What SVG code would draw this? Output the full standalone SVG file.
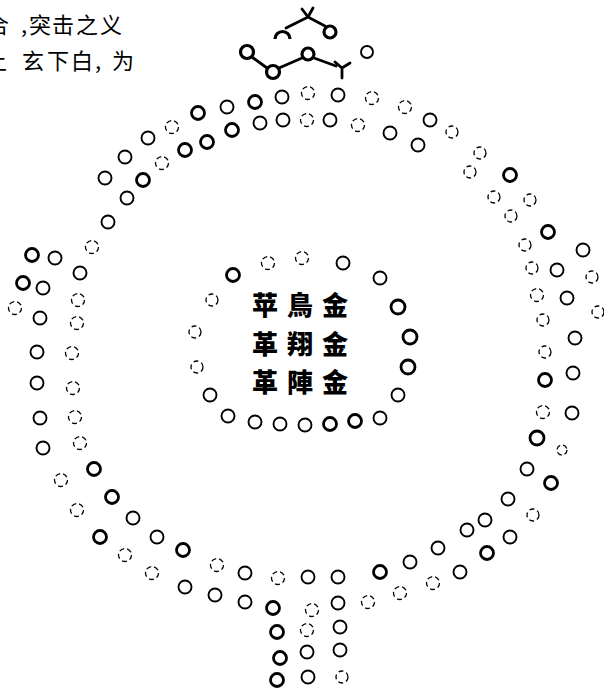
<svg xmlns="http://www.w3.org/2000/svg" width="604" height="691" viewBox="0 0 604 691">
<style>
  .c{fill:none;stroke:#000;stroke-width:1.9}
  .b{fill:none;stroke:#000;stroke-width:2.8}
  .f{fill:none;stroke:#000;stroke-width:1.3;stroke-dasharray:5 3}
  .h{fill:none;stroke:#000;stroke-width:3.2}
  .ln{fill:none;stroke:#000;stroke-width:2.8;stroke-linecap:round}
  .cap{font-family:"Noto Sans CJK SC","Noto Sans CJK JP",sans-serif;font-size:22px;fill:#000}
  .ttl{font-family:"Noto Sans CJK TC","Noto Sans CJK SC",sans-serif;font-size:26px;font-weight:900;fill:#000;text-anchor:middle}
</style>
<rect width="604" height="691" fill="#fff"/>

<g id="caption">
  <text class="cap" x="-13" y="33">合</text>
  <text class="cap" x="21" y="33">,</text>
  <text class="cap" x="29" y="33">突</text>
  <text class="cap" x="52" y="33">击</text>
  <text class="cap" x="76" y="33">之</text>
  <text class="cap" x="100" y="33">义</text>
  <text class="cap" x="-15" y="69">上</text>
  <text class="cap" x="22" y="69">玄</text>
  <text class="cap" x="47" y="69">下</text>
  <text class="cap" x="71" y="69">白</text>
  <text class="cap" x="95" y="69">,</text>
  <text class="cap" x="112" y="69">为</text>
</g>

<g id="head">
  <path class="h" d="M275,39 A7.5,7.5 0 1 1 290,39"/>
  <circle class="h" cx="330" cy="32" r="6"/>
  <path class="ln" d="M286,28 L308,17 L325,26 M302,9 L308,17 M313,8 L308,17"/>
  <circle class="h" cx="247" cy="52" r="6.5"/>
  <circle class="h" cx="273" cy="72" r="6.5"/>
  <circle class="h" cx="308" cy="54" r="6"/>
  <path class="ln" d="M252,57 L267,68 M279,68 L302,58 M314,58 L336,66"/>
  <path class="ln" d="M335,62 L342,68 L350,63 M342,68 L342,78"/>
  <circle class="c" cx="367" cy="52" r="6"/>
</g>

<g id="outer-ring">
  <circle class="c" cx="282" cy="97" r="6.5"/>
  <circle class="f" cx="308" cy="93" r="6.5"/>
  <circle class="c" cx="338" cy="95" r="6.5"/>
  <circle class="f" cx="372" cy="98" r="6.5"/>
  <circle class="f" cx="405" cy="107" r="6.5"/>
  <circle class="c" cx="430" cy="120" r="6.5"/>
  <circle class="f" cx="452" cy="132" r="6"/>
  <circle class="f" cx="480" cy="153" r="6"/>
  <circle class="b" cx="510" cy="175" r="6.5"/>
  <circle class="b" cx="255" cy="102" r="6.5"/>
  <circle class="c" cx="227" cy="107" r="6.5"/>
  <circle class="b" cx="198" cy="113" r="6.5"/>
  <circle class="f" cx="172" cy="127" r="6.5"/>
  <circle class="c" cx="148" cy="138" r="6.5"/>
  <circle class="c" cx="125" cy="157" r="6.5"/>
  <circle class="c" cx="105" cy="178" r="6.5"/>

  <circle class="b" cx="143" cy="180" r="6.5"/>
  <circle class="f" cx="162" cy="163" r="6.5"/>
  <circle class="b" cx="185" cy="150" r="6.5"/>
  <circle class="b" cx="207" cy="142" r="6.5"/>
  <circle class="b" cx="232" cy="130" r="6.5"/>
  <circle class="c" cx="260" cy="123" r="6.5"/>
  <circle class="c" cx="283" cy="120" r="6.5"/>
  <circle class="f" cx="307" cy="120" r="6.5"/>
  <circle class="c" cx="330" cy="120" r="6.5"/>
  <circle class="f" cx="358" cy="125" r="6.5"/>
  <circle class="c" cx="390" cy="133" r="6.5"/>
  <circle class="c" cx="418" cy="145" r="6.5"/>
  <circle class="f" cx="470" cy="172" r="6"/>
  <circle class="f" cx="494" cy="197" r="6"/>
  <circle class="f" cx="511" cy="216" r="6"/>
  <circle class="f" cx="525" cy="245" r="6"/>

  <circle class="c" cx="127" cy="198" r="6.5"/>
  <circle class="c" cx="108" cy="222" r="6.5"/>
  <circle class="f" cx="92" cy="247" r="6.5"/>
  <circle class="c" cx="80" cy="273" r="6.5"/>
  <circle class="f" cx="78" cy="300" r="6.5"/>
  <circle class="f" cx="77" cy="323" r="6.5"/>
  <circle class="f" cx="72" cy="353" r="6.5"/>
  <circle class="f" cx="73" cy="388" r="6.5"/>
  <circle class="f" cx="75" cy="417" r="6.5"/>
  <circle class="f" cx="80" cy="443" r="6.5"/>
  <circle class="b" cx="94" cy="469" r="6.5"/>
  <circle class="b" cx="32" cy="255" r="6.5"/>
  <circle class="c" cx="55" cy="258" r="6.5"/>
  <circle class="b" cx="23" cy="283" r="6.5"/>
  <circle class="c" cx="43" cy="288" r="6.5"/>
  <circle class="f" cx="15" cy="308" r="6.5"/>
  <circle class="c" cx="40" cy="318" r="6.5"/>
  <circle class="c" cx="37" cy="352" r="6.5"/>
  <circle class="c" cx="37" cy="383" r="6.5"/>
  <circle class="c" cx="40" cy="418" r="6.5"/>
  <circle class="c" cx="43" cy="448" r="6.5"/>
  <circle class="f" cx="61" cy="480" r="6.5"/>

  <circle class="f" cx="77" cy="510" r="6.5"/>
  <circle class="b" cx="112" cy="497" r="6.5"/>
  <circle class="c" cx="133" cy="518" r="6.5"/>
  <circle class="b" cx="100" cy="537" r="6.5"/>
  <circle class="c" cx="157" cy="537" r="6.5"/>
  <circle class="f" cx="125" cy="555" r="6.5"/>
  <circle class="b" cx="183" cy="550" r="6.5"/>
  <circle class="f" cx="152" cy="573" r="6.5"/>
  <circle class="f" cx="217" cy="565" r="6.5"/>
  <circle class="c" cx="185" cy="587" r="6.5"/>
  <circle class="c" cx="245" cy="573" r="6.5"/>
  <circle class="c" cx="215" cy="595" r="6.5"/>
  <circle class="c" cx="245" cy="602" r="6.5"/>

  <circle class="f" cx="368" cy="602" r="6.5"/>
  <circle class="b" cx="380" cy="572" r="6.5"/>
  <circle class="f" cx="400" cy="593" r="6.5"/>
  <circle class="c" cx="410" cy="562" r="6.5"/>
  <circle class="f" cx="433" cy="583" r="6.5"/>
  <circle class="c" cx="438" cy="548" r="6.5"/>
  <circle class="c" cx="460" cy="572" r="6.5"/>
  <circle class="c" cx="467" cy="530" r="6.5"/>
  <circle class="b" cx="487" cy="553" r="6.5"/>
  <circle class="c" cx="485" cy="520" r="6.5"/>
  <circle class="c" cx="510" cy="537" r="6.5"/>
  <circle class="c" cx="508" cy="499" r="6.5"/>
  <circle class="f" cx="533" cy="515" r="6"/>
  <circle class="c" cx="527" cy="469" r="6.5"/>
  <circle class="b" cx="551" cy="483" r="6.5"/>

  <circle class="f" cx="530" cy="200" r="6"/>
  <circle class="b" cx="548" cy="232" r="6.5"/>
  <circle class="c" cx="583" cy="250" r="6.5"/>
  <circle class="f" cx="532" cy="268" r="6"/>
  <circle class="c" cx="557" cy="270" r="6.5"/>
  <circle class="f" cx="592" cy="277" r="6"/>
  <circle class="f" cx="537" cy="295" r="6.5"/>
  <circle class="c" cx="567" cy="298" r="6.5"/>
  <circle class="f" cx="598" cy="312" r="6"/>
  <circle class="f" cx="543" cy="320" r="6"/>
  <circle class="c" cx="575" cy="338" r="6.5"/>
  <circle class="f" cx="545" cy="352" r="6"/>
  <circle class="c" cx="573" cy="373" r="6.5"/>
  <circle class="b" cx="545" cy="380" r="6.5"/>
  <circle class="f" cx="543" cy="412" r="6.5"/>
  <circle class="c" cx="572" cy="413" r="6.5"/>
  <circle class="b" cx="537" cy="438" r="7"/>
  <circle class="f" cx="562" cy="450" r="5"/>
</g>

<g id="tail">
  <circle class="f" cx="278" cy="578" r="6.5"/>
  <circle class="c" cx="308" cy="577" r="6.5"/>
  <circle class="c" cx="338" cy="577" r="6.5"/>
  <circle class="b" cx="273" cy="608" r="6.5"/>
  <circle class="f" cx="312" cy="610" r="6.5"/>
  <circle class="c" cx="338" cy="603" r="6.5"/>
  <circle class="b" cx="277" cy="632" r="6.5"/>
  <circle class="f" cx="307" cy="630" r="6.5"/>
  <circle class="c" cx="340" cy="627" r="6.5"/>
  <circle class="b" cx="280" cy="658" r="6.5"/>
  <circle class="c" cx="307" cy="652" r="6.5"/>
  <circle class="c" cx="340" cy="650" r="6.5"/>
  <circle class="b" cx="277" cy="680" r="6.5"/>
  <circle class="c" cx="308" cy="677" r="6.5"/>
  <circle class="f" cx="342" cy="677" r="6"/>
</g>

<g id="inner-ring">
  <circle class="b" cx="233" cy="275" r="6.5"/>
  <circle class="f" cx="268" cy="263" r="6.5"/>
  <circle class="f" cx="302" cy="258" r="6.5"/>
  <circle class="c" cx="343" cy="263" r="6.5"/>
  <circle class="c" cx="380" cy="278" r="6.5"/>
  <circle class="b" cx="398" cy="307" r="7"/>
  <circle class="b" cx="410" cy="337" r="7"/>
  <circle class="b" cx="408" cy="367" r="7"/>
  <circle class="c" cx="398" cy="395" r="6.5"/>
  <circle class="c" cx="380" cy="418" r="6.5"/>
  <circle class="b" cx="355" cy="421" r="6.5"/>
  <circle class="b" cx="330" cy="424" r="6.5"/>
  <circle class="c" cx="305" cy="425" r="6.5"/>
  <circle class="c" cx="280" cy="424" r="6.5"/>
  <circle class="c" cx="255" cy="422" r="6.5"/>
  <circle class="c" cx="228" cy="416" r="6.5"/>
  <circle class="c" cx="210" cy="395" r="6.5"/>
  <circle class="f" cx="197" cy="367" r="6"/>
  <circle class="f" cx="195" cy="332" r="6"/>
  <circle class="f" cx="212" cy="300" r="6"/>
</g>

<g id="center-title">
  <text class="ttl" x="265" y="315">苹</text>
  <text class="ttl" x="300" y="315">鳥</text>
  <text class="ttl" x="335" y="315">金</text>
  <text class="ttl" x="265" y="354">革</text>
  <text class="ttl" x="300" y="354">翔</text>
  <text class="ttl" x="335" y="354">金</text>
  <text class="ttl" x="265" y="392">革</text>
  <text class="ttl" x="300" y="392">陣</text>
  <text class="ttl" x="335" y="392">金</text>
</g>
</svg>
